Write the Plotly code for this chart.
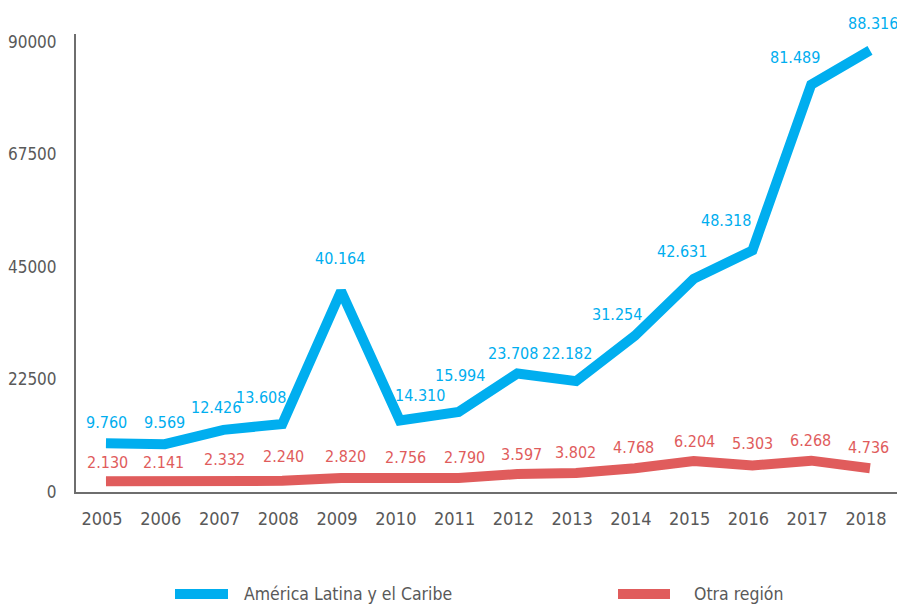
import plotly.graph_objects as go

years = [str(y) for y in range(2005, 2019)]
america_latina = [9760, 9569, 12426, 13608, 40164, 14310, 15994, 23708, 22182, 31254, 42631, 48318, 81489, 88316]
otra_region = [2130, 2141, 2332, 2240, 2820, 2756, 2790, 3597, 3802, 4768, 6204, 5303, 6268, 4736]
y_ticks = [0, 22500, 45000, 67500, 90000]

# value-label placement styling (pixel shifts from each point)
blue_dx = [1, 0, -8, -21, -1, 20, 1, -4, -9, -18, -12, -26, -16, 3]
blue_dy = [21, 22, 22, 26, 33, 25, 37, 20, 28, 21, 27, 30, 27, 27]
red_dx = [2, -1, 1, 1, 4, 6, 6, 4, -1, -1, 1, 0, -1, -1]
red_dy = [19, 19, 21, 24, 21, 21, 21, 20, 20, 21, 19, 22, 20, 21]

BLUE = "#00AEEF"
RED = "#E05C5C"
FONT = "DejaVu Sans Condensed"
GREY = "#595959"

def fmt(v):
    return f"{v:,}".replace(",", ".")

fig = go.Figure()
fig.add_trace(go.Scatter(x=years, y=america_latina, mode="lines", name="América Latina y el Caribe",
                         line=dict(color=BLUE, width=10), showlegend=False))
fig.add_trace(go.Scatter(x=years, y=otra_region, mode="lines", name="Otra región",
                         line=dict(color=RED, width=10), showlegend=False))

# category axis: annotations are anchored by category index
for i, (v, dx, dy) in enumerate(zip(america_latina, blue_dx, blue_dy)):
    fig.add_annotation(x=i, y=v, text=fmt(v), showarrow=False, xanchor="center", yanchor="middle",
                       xshift=dx, yshift=dy, font=dict(size=16, color=BLUE, family=FONT))
for i, (v, dx, dy) in enumerate(zip(otra_region, red_dx, red_dy)):
    fig.add_annotation(x=i, y=v, text=fmt(v), showarrow=False, xanchor="center", yanchor="middle",
                       xshift=dx, yshift=dy, font=dict(size=16, color=RED, family=FONT))

W, H = 897, 604
ml, mr, mt, mb = 76, 0, 34, 112

fig.update_layout(
    width=W, height=H, margin=dict(l=ml, r=mr, t=mt, b=mb),
    paper_bgcolor="white", plot_bgcolor="white",
    font=dict(family=FONT, color=GREY, size=17),
    xaxis=dict(type="category", range=[-0.51, 13.46], showgrid=False, showline=True,
               linecolor="#6E6E6E", linewidth=2, ticks="", tickfont=dict(size=18, color=GREY),
               ticklabelstandoff=9, ticklabelshift=-4, zeroline=False),
    yaxis=dict(range=[0, 91600], tickvals=y_ticks, ticktext=[str(v) for v in y_ticks],
               showgrid=False, showline=True, linecolor="#6E6E6E", linewidth=2, ticks="",
               ticklabelstandoff=14, tickfont=dict(size=17, color=GREY), zeroline=False),
    showlegend=False,
)

# manual legend at the bottom
ly = (492 - 594) / (H - mt - mb)
pw = W - ml - mr
def px(x):
    return (x - ml) / pw
fig.add_shape(type="line", xref="paper", yref="paper", x0=px(175), x1=px(228), y0=ly, y1=ly,
              line=dict(color=BLUE, width=10))
fig.add_shape(type="line", xref="paper", yref="paper", x0=px(618), x1=px(670), y0=ly, y1=ly,
              line=dict(color=RED, width=10))
fig.add_annotation(xref="paper", yref="paper", x=px(242), y=ly, xanchor="left", yanchor="middle",
                   text="América Latina y el Caribe", showarrow=False,
                   font=dict(size=17.5, color=GREY, family=FONT))
fig.add_annotation(xref="paper", yref="paper", x=px(692), y=ly, xanchor="left", yanchor="middle",
                   text="Otra región", showarrow=False,
                   font=dict(size=17.5, color=GREY, family=FONT))

fig.write_html("out.html", config={"displayModeBar": False},
               post_script="document.body.style.margin='0';document.body.style.overflow='hidden';")
